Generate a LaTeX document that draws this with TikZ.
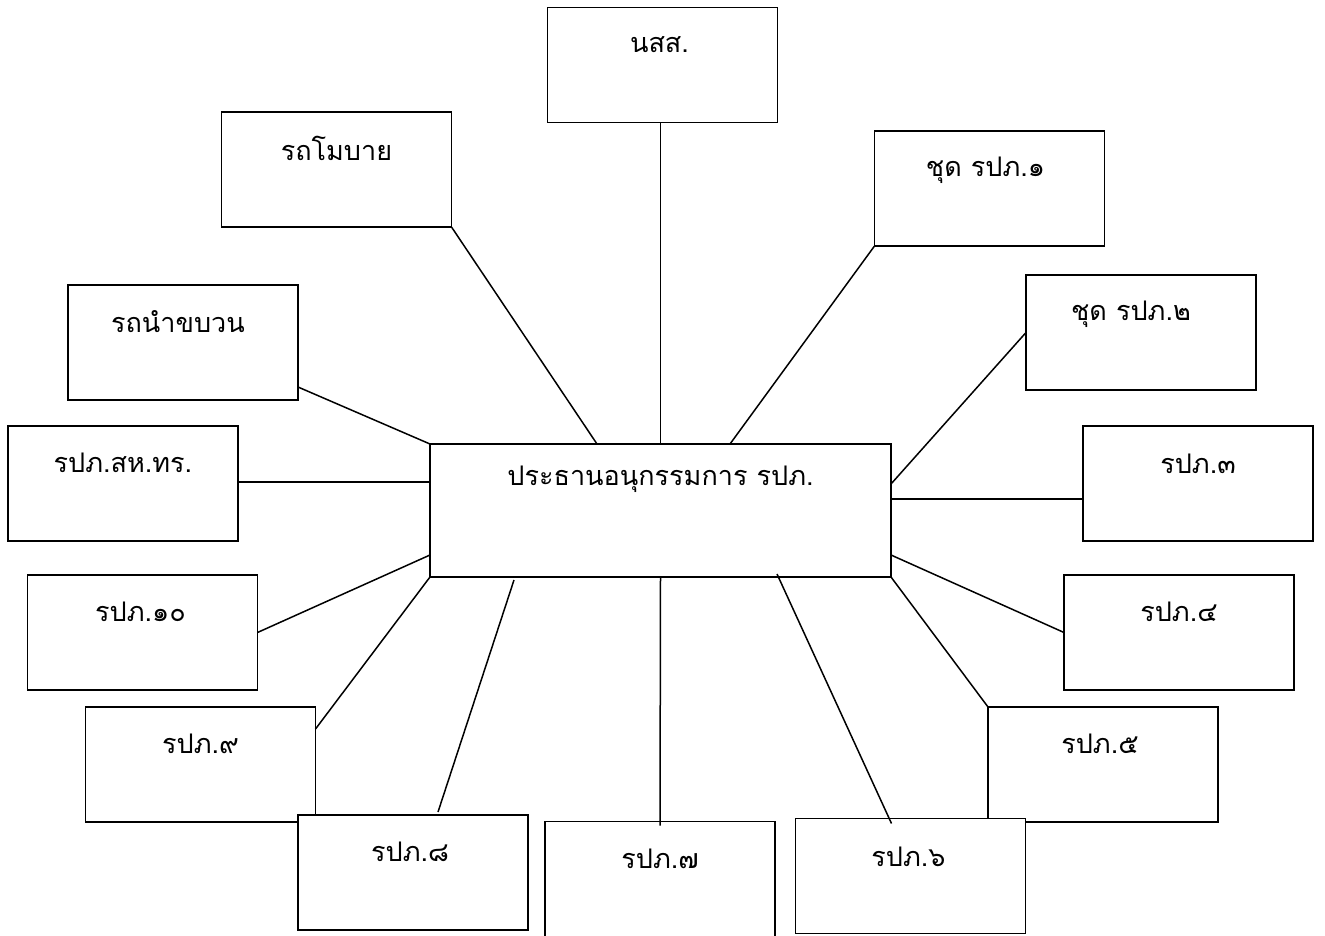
\documentclass[tikz,border=0pt]{standalone}
\usepackage{fontspec}
\newfontfamily\thaifont[Script=Thai]{Loma}
\usetikzlibrary{calc}
\tikzset{
  box/.style={draw=black, fill=white, line width=1.6pt, minimum width=230pt, minimum height=115pt, inner sep=0pt, outer sep=0pt},
  cbox/.style={box, minimum width=461pt, minimum height=133pt},
  lbl/.style={inner sep=0pt, font=\thaifont\fontsize{27pt}{30pt}\selectfont},
  conn/.style={line width=1.5pt}
}
\begin{document}
\begin{tikzpicture}[x=1pt,y=-1pt]
\useasboundingbox (0,0) rectangle (1325,936);
% boxes
\node[box] (nss) at (662.5,65) {};
\node[box] (mob) at (336.5,169.5) {};
\node[box] (s1) at (989.5,188.5) {};
\node[box] (s2) at (1141,332.5) {};
\node[box] (r3) at (1198,483.5) {};
\node[box] (r4) at (1179,632.5) {};
\node[box] (r5) at (1103,764.5) {};
\node[box] (r6) at (910.5,876) {};
\node[box] (r7) at (660,879) {};
\node[box] (r9) at (200.5,764.5) {};
\node[box] (r8) at (413,872.5) {};
\node[box] (r10) at (142.5,632.5) {};
\node[box] (sh) at (123,483.5) {};
\node[box] (lead) at (183,342.5) {};
\node[cbox] (c) at (660.5,510.5) {};
% connectors
\draw[conn] (c.north |- nss.south) -- (c.north);
\draw[conn] (mob.south east) -- ($(c.north west)+(167,0)$);
\draw[conn] (s1.south west) -- ($(c.north west)+(300,0)$);
\draw[conn] (s2.west) -- ($(c.north east)+(0,40)$);
\draw[conn] ($(c.north east)+(0,55)$) -- (r3.west |- {$(c.north east)+(0,55)$});
\draw[conn] ($(c.south east)+(0,-22)$) -- (r4.west);
\draw[conn] (c.south east) -- (r5.north west);
\draw[conn] ($(c.south west)+(347,-3)$) -- ($(r6.north west)+(96,5)$);
\draw[conn] (c.south) -- ($(r7.north)+(0,4)$);
\draw[conn] ($(c.south west)+(84,3)$) -- ($(r8.north west)+(140,-3)$);
\draw[conn] (c.south west) -- ($(r9.north east)+(0,22)$);
\draw[conn] ($(c.south west)+(0,-22)$) -- (r10.east);
\draw[conn] ($(sh.east)+(0,-1.5)$) -- ($(c.west |- sh.east)+(0,-1.5)$);
\draw[conn] ($(lead.south east)+(0,-13)$) -- (c.north west);
% labels
\node[lbl] (nss-t) at ($(nss.north)+(-3,37)$) {นสส.};
\node[lbl] (mob-t) at ($(mob.north)+(0,36)$) {รถโมบาย};
\node[lbl] (s1-t) at ($(s1.north)+(-4,39)$) {ชุด รปภ.๑};
\node[lbl] (s2-t) at ($(s2.north)+(-10,39)$) {ชุด รปภ.๒};
\node[lbl] (r3-t) at ($(r3.north)+(0,38)$) {รปภ.๓};
\node[lbl] (r4-t) at ($(r4.north)+(0,37)$) {รปภ.๔};
\node[lbl] (r5-t) at ($(r5.north)+(-3,37)$) {รปภ.๕};
\node[lbl] (r6-t) at ($(r6.north)+(-2,38)$) {รปภ.๖};
\node[lbl] (r7-t) at ($(r7.north)+(0,37)$) {รปภ.๗};
\node[lbl] (r8-t) at ($(r8.north)+(-3,37)$) {รปภ.๘};
\node[lbl] (r9-t) at ($(r9.north)+(0,37)$) {รปภ.๙};
\node[lbl] (r10-t) at ($(r10.north)+(-2,37)$) {รปภ.๑๐};
\node[lbl] (sh-t) at ($(sh.north)+(0,37)$) {รปภ.สห.ทร.};
\node[lbl] (lead-t) at ($(lead.north)+(-5,37)$) {รถนำขบวน};
\node[lbl] (c-t) at ($(c.north)+(0,35)$) {ประธานอนุกรรมการ รปภ.};
\end{tikzpicture}
\end{document}
